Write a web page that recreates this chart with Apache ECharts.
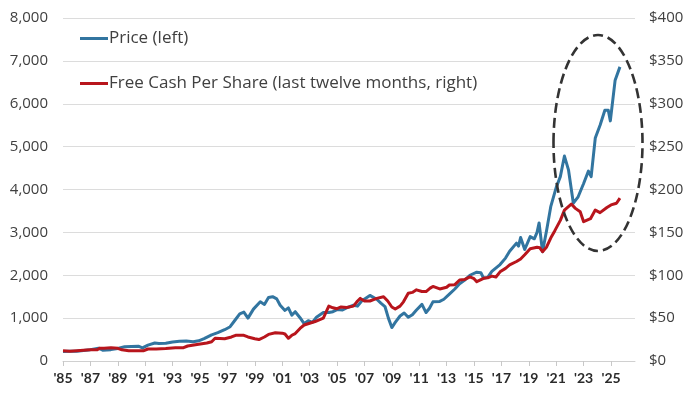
<!DOCTYPE html>
<html>
<head>
<meta charset="utf-8">
<script src="https://cdn.jsdelivr.net/npm/echarts@6/dist/echarts.min.js"></script>
<style>
html,body{margin:0;padding:0;background:#fff;}
#chart{width:689px;height:393px;}
</style>
</head>
<body>
<div id="chart"></div>
<script>
// ---- data ----
const startYear = 1985;
const priceYears = [1985.0,1985.5,1986.0,1986.5,1987.0,1987.6,1987.9,1988.5,1989.0,1989.5,1990.0,1990.5,1990.8,1991.2,1991.7,1992.0,1992.5,1993.0,1993.5,1994.0,1994.5,1994.9,1995.3,1995.85,1996.3,1996.8,1997.2,1997.55,1997.9,1998.2,1998.5,1998.9,1999.4,1999.7,2000.0,2000.3,2000.6,2000.85,2001.2,2001.45,2001.7,2001.95,2002.3,2002.6,2002.9,2003.2,2003.5,2004.0,2004.4,2004.7,2005.0,2005.4,2005.7,2006.2,2006.5,2006.8,2007.4,2007.9,2008.2,2008.5,2008.75,2009.0,2009.25,2009.6,2009.9,2010.2,2010.5,2010.8,2011.2,2011.5,2011.75,2012.0,2012.5,2012.8,2013.2,2013.6,2013.95,2014.3,2014.7,2015.2,2015.5,2015.7,2016.0,2016.3,2016.9,2017.3,2017.6,2018.1,2018.25,2018.4,2018.7,2019.1,2019.4,2019.6,2019.75,2020.0,2020.3,2020.6,2021.0,2021.3,2021.6,2021.9,2022.25,2022.6,2023.0,2023.35,2023.55,2023.85,2024.2,2024.55,2024.8,2024.95,2025.3,2025.65];
const priceValues = [220,225,230,245,265,300,250,265,290,335,340,345,305,370,420,410,415,445,460,465,450,470,520,610,660,730,800,950,1100,1140,1000,1210,1380,1320,1480,1500,1450,1300,1180,1240,1070,1150,1010,870,940,900,1020,1130,1130,1150,1200,1190,1240,1300,1280,1400,1530,1440,1350,1270,1000,780,900,1050,1120,1020,1080,1190,1320,1130,1230,1380,1390,1440,1560,1680,1800,1880,2000,2070,2060,1930,1950,2090,2250,2400,2560,2750,2680,2880,2600,2900,2850,3000,3220,2550,3050,3600,4050,4300,4780,4450,3680,3830,4140,4430,4300,5200,5500,5850,5850,5600,6550,6860];

const fcfYears = [1985.0,1985.5,1986.0,1986.5,1987.0,1987.5,1987.7,1988.0,1988.5,1989.0,1989.3,1989.8,1990.5,1990.9,1991.2,1991.8,1992.5,1993.2,1993.8,1994.1,1994.9,1995.5,1995.85,1996.1,1996.8,1997.3,1997.6,1998.2,1998.5,1999.0,1999.3,1999.7,2000.0,2000.5,2001.0,2001.2,2001.45,2001.7,2001.95,2002.3,2002.6,2003.0,2003.4,2004.0,2004.2,2004.4,2004.7,2005.0,2005.3,2005.7,2006.2,2006.5,2006.7,2007.0,2007.4,2007.9,2008.4,2008.7,2009.0,2009.25,2009.6,2009.85,2010.2,2010.5,2010.8,2011.2,2011.5,2011.8,2012.0,2012.5,2013.0,2013.2,2013.6,2013.95,2014.3,2014.7,2015.0,2015.2,2015.7,2016.0,2016.3,2016.6,2016.9,2017.3,2017.6,2018.1,2018.4,2018.7,2019.1,2019.6,2019.8,2020.0,2020.3,2020.65,2020.9,2021.3,2021.6,2022.1,2022.4,2022.75,2023.0,2023.5,2023.85,2024.2,2024.7,2025.0,2025.4,2025.65];
const fcfValues = [12,11.5,12,12.5,13,13,15,15,15.5,14.8,13,12,12,12,14,14,14.5,15.5,15.5,17.5,19.5,21,22.5,26.5,26,28,30,30,28,26,25,28,31,33,32.5,31.5,26.5,30,32,38,42,44,46,50,57,64,62,61,63,62.5,64,70,73,70,70,73,75,70,63,60.6,64,69,79,80,83,81,81,85,87,84,86,88.6,89,94.5,95,98,96,92.5,96.4,97,99,98,104,108,112,116,119,124,131,132.6,132,127.5,133,145,152,164,176,183,178,174,162.5,166,176,173,179,182,184,190];

const leftTicks = {min: 0, max: 8000, interval: 1000};
const rightTicks = {min: 0, max: 400, interval: 50};
const seriesNames = ['Price (left)', 'Free Cash Per Share (last twelve months, right)'];

// ---- chart ----
const chart = echarts.init(document.getElementById('chart'));
const toPairs = (xs, ys) => xs.map((x, i) => [x - startYear, ys[i]]);
const fontFam = '"Open Sans", Lato, sans-serif';

chart.setOption({
  animation: false,
  backgroundColor: '#ffffff',
  grid: {left: 63, right: 54, top: 18, bottom: 32, containLabel: false},
  legend: {
    orient: 'vertical',
    left: 75,
    top: 23,
    itemWidth: 28,
    itemHeight: 3,
    itemGap: 24,
    icon: 'rect',
    textStyle: {fontFamily: fontFam, fontSize: 17, color: '#404040', lineHeight: 21, padding: [0, 0, 0, -4]},
    data: seriesNames
  },
  xAxis: {
    type: 'value',
    min: 0,
    max: 41.75,
    interval: 2,
    axisLine: {show: true, lineStyle: {color: '#d0d0d0', width: 1}},
    axisTick: {show: true, length: 5, lineStyle: {color: '#c8c8c8'}},
    splitLine: {show: false},
    axisLabel: {
      margin: 10,
      fontFamily: 'Lato, sans-serif',
      fontSize: 14,
      fontWeight: 'bold',
      color: '#2b2b2b',
      formatter: v => "'" + String((startYear + v) % 100).padStart(2, '0')
    }
  },
  yAxis: [
    {
      type: 'value',
      min: leftTicks.min, max: leftTicks.max, interval: leftTicks.interval,
      axisLine: {show: false},
      axisTick: {show: false},
      splitLine: {show: true, lineStyle: {color: '#dcdcdc', width: 1}},
      axisLabel: {
        margin: 15,
        fontFamily: fontFam, fontSize: 15, color: '#404040',
        formatter: v => v.toLocaleString('en-US')
      }
    },
    {
      type: 'value',
      position: 'right',
      min: rightTicks.min, max: rightTicks.max, interval: rightTicks.interval,
      axisLine: {show: false},
      axisTick: {show: false},
      splitLine: {show: false},
      axisLabel: {
        margin: 14,
        fontFamily: fontFam, fontSize: 15, color: '#404040',
        formatter: v => '$' + v
      }
    }
  ],
  series: [
    {
      name: seriesNames[0],
      type: 'line',
      yAxisIndex: 0,
      data: toPairs(priceYears, priceValues),
      showSymbol: false,
      symbol: 'none',
      lineStyle: {color: '#3275a0', width: 3, join: 'round'},
      itemStyle: {color: '#3275a0'},
      z: 2
    },
    {
      name: seriesNames[1],
      type: 'line',
      yAxisIndex: 1,
      data: toPairs(fcfYears, fcfValues),
      showSymbol: false,
      symbol: 'none',
      lineStyle: {color: '#b8151c', width: 3, join: 'round'},
      itemStyle: {color: '#b8151c'},
      z: 3
    }
  ],
  graphic: [
    {
      type: 'ellipse',
      shape: {cx: 598, cy: 143, rx: 44.5, ry: 108},
      style: {fill: 'none', stroke: '#333333', lineWidth: 2.6, lineDash: [10, 5]},
      z: 10
    }
  ]
});
</script>
</body>
</html>
